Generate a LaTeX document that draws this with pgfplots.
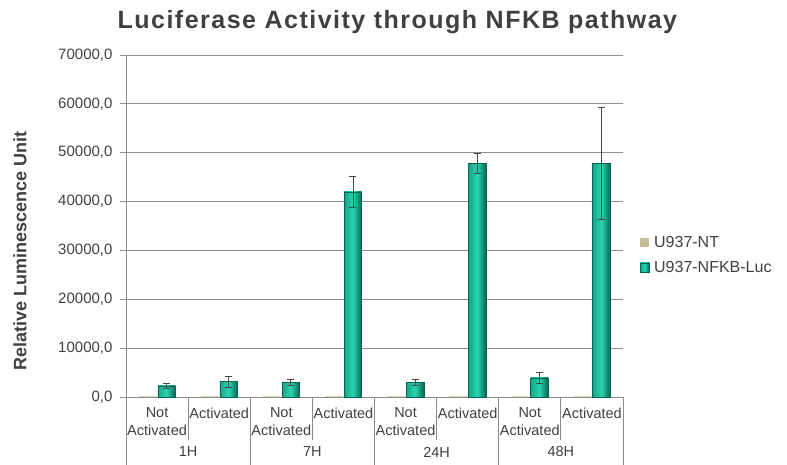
\documentclass[border=0pt]{standalone}
\usepackage{pgfplots}
\pgfplotsset{compat=1.18}
\usepackage{pgfplotstable}
\usepackage{fontspec}
\setmainfont{Liberation Sans}
\newfontfamily\titlefont[LetterSpace=6]{Liberation Sans}
\definecolor{txt}{RGB}{64,64,64}
\definecolor{ntcol}{RGB}{196,189,151}
\definecolor{tealdark}{RGB}{8,100,82}
\definecolor{tealmid}{RGB}{22,165,135}
\definecolor{teallight}{RGB}{42,212,176}
\definecolor{gridc}{RGB}{140,140,140}
\definecolor{errc}{RGB}{70,70,70}

\pgfplotstableread{
x y
0 150
1 150
2 150
3 150
4 150
5 150
6 150
7 150
}\ntdata

% error bars, x shifted by bar shift (9.5pt / 62.125pt per category)
\pgfplotstableread{
x y err
0.153 2300 500
1.153 3150 1150
2.153 3000 700
3.153 42000 3200
4.153 3000 550
5.153 47800 2000
6.153 3900 1100
7.153 47800 11400
}\errdata

\pgfplotsset{lucbar/.style={ybar, bar width=17.5pt, bar shift=9.5pt, draw=tealdark, line width=0.4pt,
  left color=tealmid, right color=tealdark, middle color=teallight}}

\begin{document}
\begin{tikzpicture}
\useasboundingbox (-126pt,-68pt) rectangle (661pt,397pt);
\begin{axis}[
  scale only axis, width=497pt, height=342pt,
  anchor=south west, at={(0,0)},
  clip=false,
  ymin=0, ymax=70000, ytick={0,10000,...,70000},
  xmin=-0.5, xmax=7.5,
  xtick={0,...,7},
  xticklabels={{Not\\Activated},Activated,{Not\\Activated},Activated,{Not\\Activated},Activated,{Not\\Activated},Activated},
  xticklabel style={align=center, font=\fontsize{14.5}{18}\selectfont, text=txt, anchor=north, yshift=-1pt},
  x tick style={draw=none},
  axis x line*=bottom, axis y line*=left,
  axis line style={draw=gridc, -},
  ymajorgrids, grid style={draw=gridc, line width=0.8pt},
  y tick style={draw=gridc, line width=0.8pt},
  tick align=outside, major tick length=6pt,
  yticklabel style={font=\fontsize{15}{18}\selectfont, text=txt, xshift=-4pt,
    /pgf/number format/.cd, fixed, fixed zerofill, precision=1, use comma, 1000 sep={}, assume math mode=true},
  scaled y ticks=false,
  ylabel={Relative Luminescence Unit},
  ylabel style={at={(axis description cs:-0.193,0.427)}, anchor=south, rotate=0,
    font=\bfseries\fontsize{18}{21}\selectfont, text=txt},
  title={Luciferase Activity through NFKB pathway},
  title style={at={(axis description cs:0.546,1)}, anchor=base, yshift=20pt,
    font=\titlefont\bfseries\fontsize{25}{29}\selectfont, text=txt},
  legend style={at={(axis description cs:1.034,0.415)}, anchor=west, draw=none, fill=none,
    font=\fontsize{16}{19}\selectfont, text=txt, row sep=8pt, inner sep=0pt,
    nodes={inner sep=2pt}},
  legend cell align=left,
]
\addplot[ybar, bar width=17.5pt, bar shift=-9.5pt, fill=ntcol, draw=none,
  legend image code/.code={\fill[ntcol] (0pt,-4.5pt) rectangle (9pt,4.5pt);}]
  table[x=x, y=y] {\ntdata};
\addlegendentry{\,U937-NT}
\addplot[lucbar, legend image code/.code={\shade[left color=tealmid, right color=tealdark, middle color=teallight] (0pt,-4.5pt) rectangle (9pt,4.5pt);}]
  coordinates {(0,2300)};
\addlegendentry{\,U937-NFKB-Luc}
\addplot[lucbar, forget plot] coordinates {(1,3150)};
\addplot[lucbar, forget plot] coordinates {(2,3000)};
\addplot[lucbar, forget plot] coordinates {(3,42000)};
\addplot[lucbar, forget plot] coordinates {(4,3000)};
\addplot[lucbar, forget plot] coordinates {(5,47800)};
\addplot[lucbar, forget plot] coordinates {(6,3900)};
\addplot[lucbar, forget plot] coordinates {(7,47800)};
\addplot[draw=none, mark=none, forget plot,
  error bars/.cd, y dir=both, y explicit,
  error bar style={draw=errc, line width=0.8pt},
  error mark options={rotate=90, mark size=3.5pt, draw=errc, line width=0.8pt}]
  table[x=x, y=y, y error=err] {\errdata};
\pgfplotsinvokeforeach{0.5,2.5,4.5,6.5}{\draw[gridc, line width=0.8pt] (axis cs:#1,0) -- ++(0pt,-43pt);}
\pgfplotsinvokeforeach{-0.5,1.5,3.5,5.5,7.5}{\draw[gridc, line width=0.8pt] (axis cs:#1,0) -- ++(0pt,-68pt);}
\node[font=\fontsize{14.5}{18}\selectfont, text=txt] at ([yshift=-55pt]axis cs:0.5,0) {1H};
\node[font=\fontsize{14.5}{18}\selectfont, text=txt] at ([yshift=-55pt]axis cs:2.5,0) {7H};
\node[font=\fontsize{14.5}{18}\selectfont, text=txt] at ([yshift=-55pt]axis cs:4.5,0) {24H};
\node[font=\fontsize{14.5}{18}\selectfont, text=txt] at ([yshift=-55pt]axis cs:6.5,0) {48H};
\end{axis}
\end{tikzpicture}
\end{document}
